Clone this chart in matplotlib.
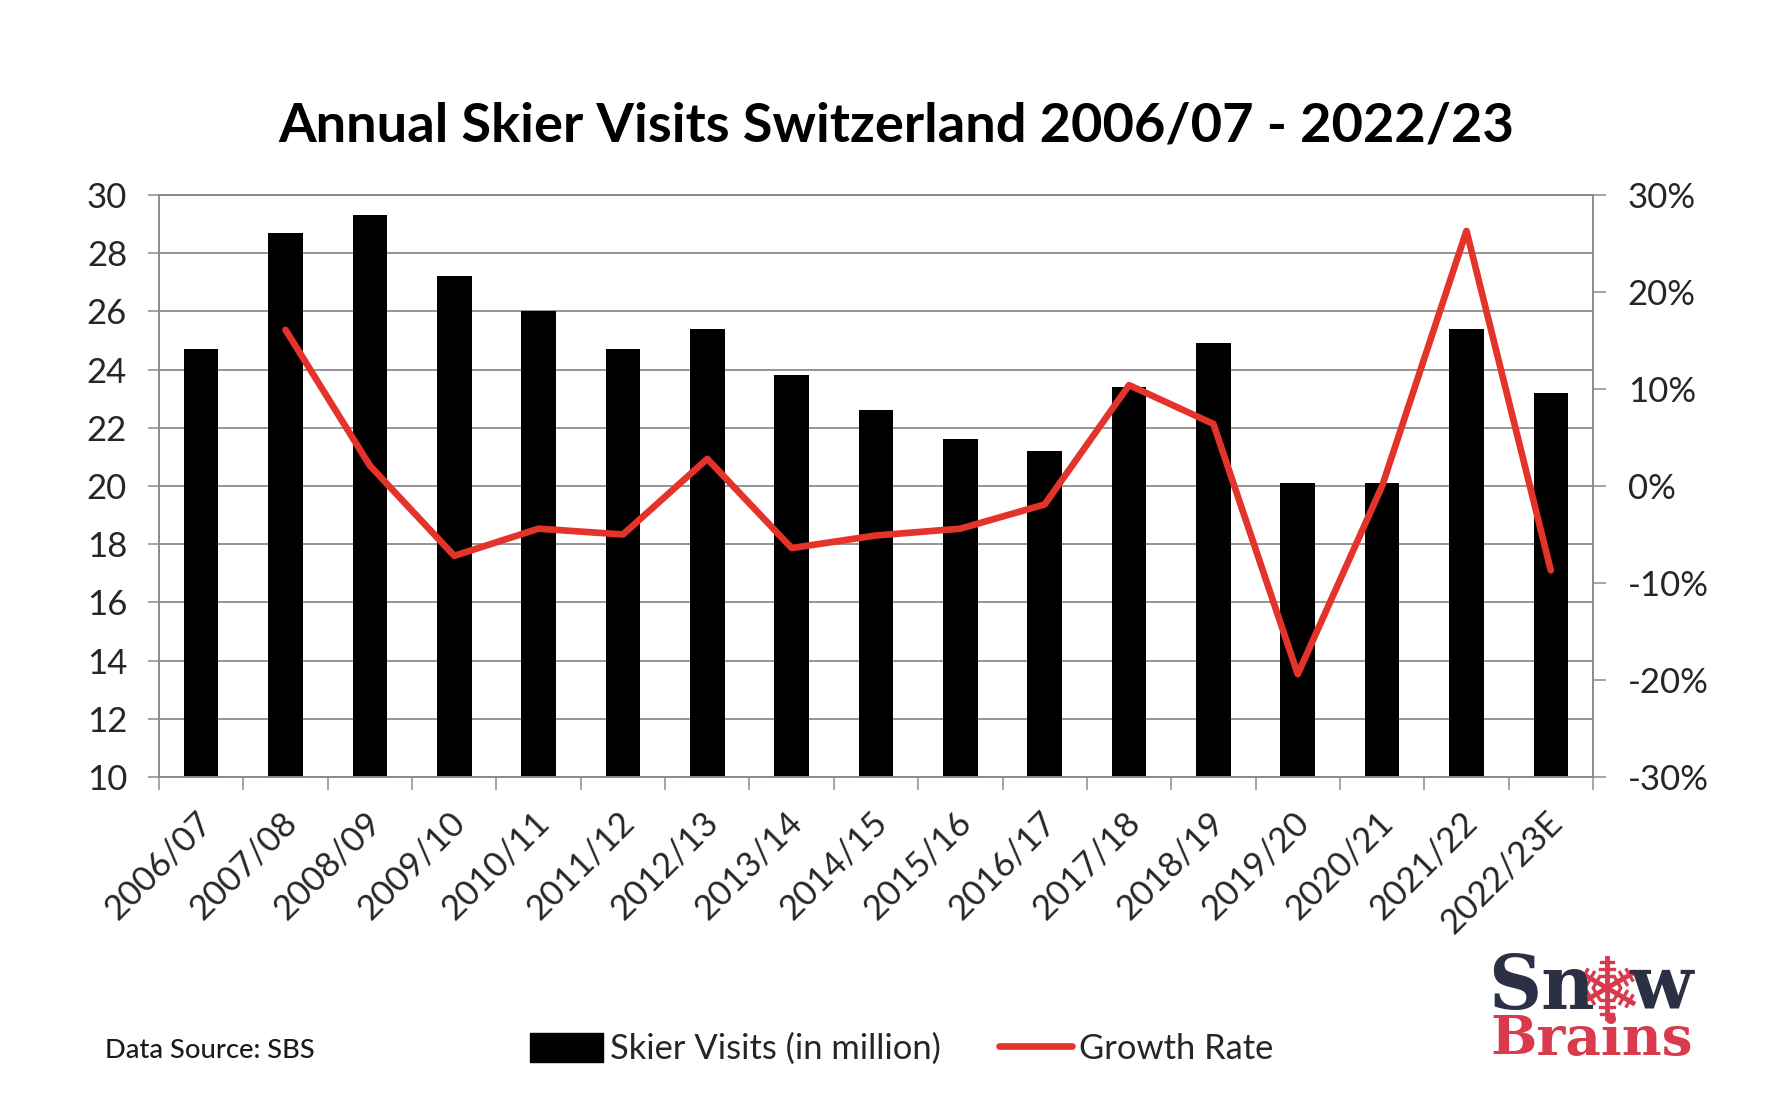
import matplotlib
matplotlib.use("Agg")
import matplotlib.pyplot as plt
import numpy as np
from matplotlib.lines import Line2D
from matplotlib.patches import Patch
from matplotlib.transforms import ScaledTranslation

W, H = 1779, 1108

seasons = ["2006/07", "2007/08", "2008/09", "2009/10", "2010/11", "2011/12",
           "2012/13", "2013/14", "2014/15", "2015/16", "2016/17", "2017/18",
           "2018/19", "2019/20", "2020/21", "2021/22", "2022/23E"]
visits = [24.7, 28.7, 29.3, 27.2, 26.0, 24.7, 25.4, 23.8, 22.6, 21.6, 21.2,
          23.4, 24.9, 20.1, 20.1, 25.4, 23.2]
# no growth figure for the first season
growth = [None, 16.1, 2.1, -7.2, -4.4, -5.0, 2.8, -6.4, -5.1, -4.4, -1.9,
          10.4, 6.4, -19.4, 0.0, 26.3, -8.7]
left_ticks = list(range(10, 31, 2))
right_ticks = list(range(-30, 31, 10))

GRAY = "#8c8c8c"
TEXT = "#262626"
RED = "#e4332a"
NAVY = "#2b3044"
LOGO_RED = "#d93a4c"

plt.rcParams["font.family"] = ["Lato", "DejaVu Sans"]


def fx(px):
    return px / W


def fy(py):
    return 1 - py / H


fig = plt.figure(figsize=(W / 100, H / 100), dpi=100, facecolor="white")
ax = fig.add_axes([fx(159), fy(777), (1593 - 159) / W, (777 - 195) / H])

x = np.arange(len(seasons))
ax.set_axisbelow(True)
ax.bar(x, visits, width=0.41, color="black")
ax.set_xlim(-0.5, len(seasons) - 0.5)
ax.set_ylim(10, 30)
ax.set_yticks(left_ticks)
ax.grid(axis="y", color=GRAY, linewidth=1.3)
ax.tick_params(axis="y", length=8, width=1.1, color=GRAY, pad=15,
               labelsize=25, labelcolor=TEXT)

ax.set_xticks(x)
ax.set_xticklabels(seasons, rotation=45, ha="right", va="top",
                   rotation_mode="anchor", fontsize=25, color=TEXT)
ax.tick_params(axis="x", which="major", length=0, pad=21)
ax.set_xticks(np.arange(-0.5, len(seasons)), minor=True)
ax.tick_params(axis="x", which="minor", length=9.5, width=1.1, color=GRAY)
shift = ScaledTranslation(-4 / 72, 0, fig.dpi_scale_trans)
for label in ax.get_xticklabels():
    label.set_transform(label.get_transform() + shift)

for side in ["left", "right", "bottom", "top"]:
    ax.spines[side].set_color(GRAY)
    ax.spines[side].set_linewidth(1.2)

ax2 = ax.twinx()
ax2.set_ylim(-30, 30)
ax2.set_yticks(right_ticks)
ax2.set_yticklabels([f"{t}%" for t in right_ticks])
ax2.tick_params(axis="y", length=9.5, width=1.1, color=GRAY, pad=15.5,
                labelsize=25, labelcolor=TEXT)
for side in ["left", "right", "bottom", "top"]:
    ax2.spines[side].set_color(GRAY)
    ax2.spines[side].set_linewidth(1.2)
ax2.plot(x[1:], growth[1:], color=RED, linewidth=4.8,
         solid_capstyle="round", solid_joinstyle="round")

fig.text(fx(896), fy(126), "Annual Skier Visits Switzerland 2006/07 - 2022/23",
         ha="center", va="center", fontsize=39.1, fontweight="bold", color="black")
fig.text(fx(105), fy(1051), "Data Source: SBS", ha="left", va="center",
         fontsize=19.7, fontweight="medium", color="#1a1a1a")

handles = [Patch(facecolor="black", edgecolor="black"),
           Line2D([0], [0], color=RED, linewidth=4.8, solid_capstyle="round")]
fig.legend(handles, ["Skier Visits (in million)", "Growth Rate"], ncol=2,
           loc="center left", bbox_to_anchor=(fx(530), fy(1049)), frameon=False,
           fontsize=24.8, labelcolor=TEXT, borderaxespad=0, borderpad=0,
           handlelength=2.12, handleheight=0.9, handletextpad=0.2,
           columnspacing=1.7)

# logo
fig.text(fx(1488), fy(1009), "Sn", ha="left", va="baseline", fontsize=53,
         fontweight="bold", family="DejaVu Serif", color=NAVY)
fig.text(fx(1693), fy(1009), "w", ha="right", va="baseline", fontsize=53,
         fontweight="bold", family="DejaVu Serif", color=NAVY)
fig.text(fx(1490), fy(1055), "Brains", ha="left", va="baseline", fontsize=39.5,
         fontweight="bold", family="DejaVu Serif", color=LOGO_RED)

cx, cy = 1607, 988
for ang in np.deg2rad([90, 150, 210, 270, 330, 30]):
    dx, dy = np.cos(ang), np.sin(ang)
    fig.add_artist(Line2D([fx(cx), fx(cx + 30 * dx)], [fy(cy), fy(cy - 30 * dy)],
                          color=LOGO_RED, linewidth=3.5, transform=fig.transFigure))
    for r, size in [(12, 6), (19, 7), (26, 6)]:
        px, py = cx + r * dx, cy - r * dy
        nx, ny = -dy, dx
        fig.add_artist(Line2D([fx(px - size * nx), fx(px + size * nx)],
                              [fy(py + size * ny), fy(py - size * ny)],
                              color=LOGO_RED, linewidth=2.4,
                              transform=fig.transFigure))

fig.savefig("out.png", dpi=100)
